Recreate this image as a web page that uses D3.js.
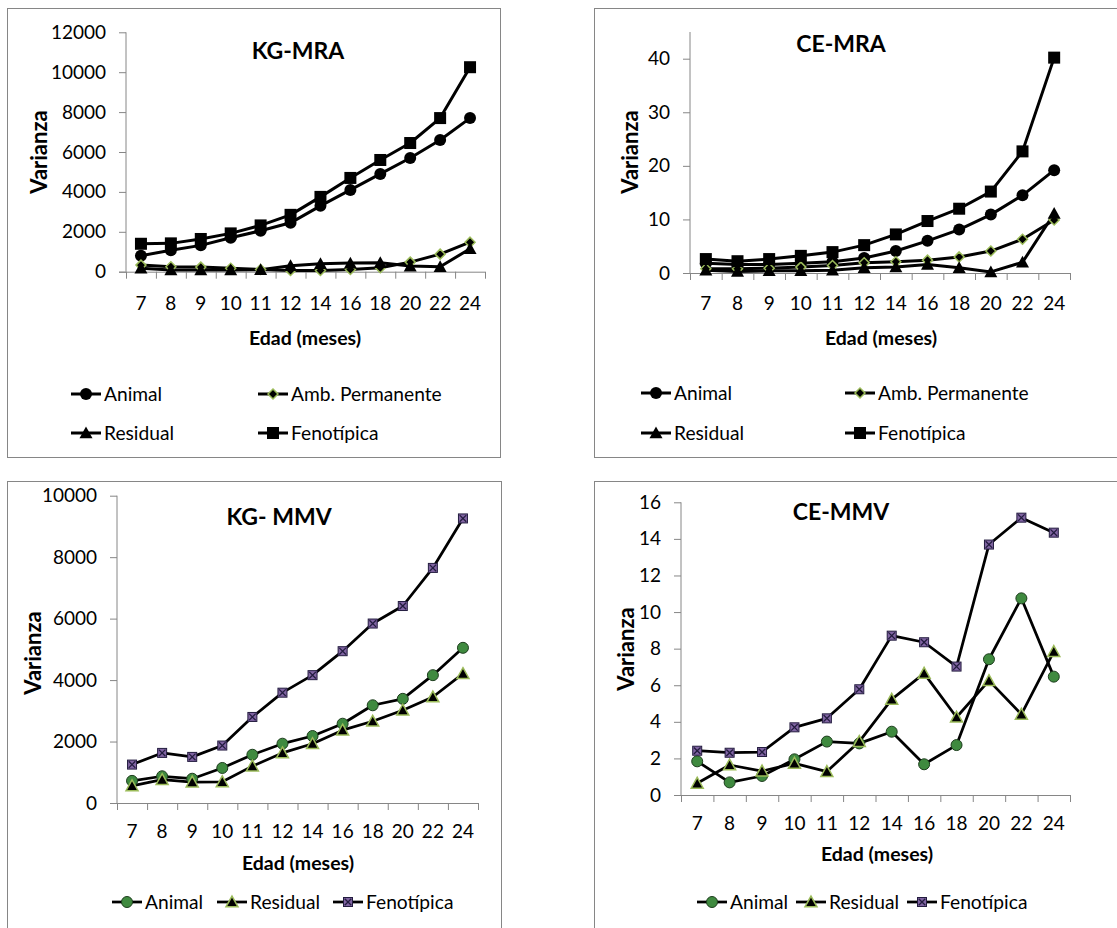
<!DOCTYPE html>
<html><head><meta charset="utf-8">
<script src="https://cdn.jsdelivr.net/npm/d3@7"></script>
<style>
body{margin:0;background:#fff}
svg{display:block}
text{font-family:Lato,"Open Sans",sans-serif;fill:#000}
</style>
</head><body>
<svg id="c" width="1117" height="928"></svg>
<script>
// ---------- DATA ----------
const edades = ["7","8","9","10","11","12","14","16","18","20","22","24"];

const kgMraAnimal     = [800,1080,1320,1700,2050,2450,3300,4100,4900,5700,6600,7700];
const kgMraAmbPerm    = [330,250,230,170,110,60,60,110,200,480,880,1480];
const kgMraResidual   = [170,80,80,80,100,300,400,430,450,280,250,1150];
const kgMraFenotipica = [1400,1420,1640,1920,2320,2850,3750,4700,5600,6450,7700,10250];
const kgMraTicks      = [0,2000,4000,6000,8000,10000,12000];

const ceMraAnimal     = [1.8,1.6,1.6,1.8,2.1,2.8,4.1,6.0,8.1,10.9,14.5,19.2];
const ceMraAmbPerm    = [0.8,0.8,0.9,1.1,1.4,1.9,2.1,2.4,3.0,4.1,6.3,9.9];
const ceMraResidual   = [0.5,0.3,0.4,0.4,0.5,1.0,1.1,1.6,1.0,0.2,2.0,11.1];
const ceMraFenotipica = [2.6,2.2,2.6,3.2,3.9,5.2,7.2,9.7,12.0,15.2,22.7,40.2];
const ceMraTicks      = [0,10,20,30,40];

const kgMmvAnimal     = [720,870,790,1140,1570,1930,2180,2580,3180,3390,4160,5050];
const kgMmvResidual   = [560,760,680,690,1200,1630,1930,2370,2660,3020,3450,4210];
const kgMmvFenotipica = [1250,1630,1500,1870,2800,3590,4160,4940,5840,6410,7650,9260];
const kgMmvTicks      = [0,2000,4000,6000,8000,10000];

const ceMmvAnimal     = [1.84,0.69,1.04,1.95,2.92,2.82,3.46,1.68,2.73,7.42,10.75,6.47];
const ceMmvResidual   = [0.64,1.64,1.31,1.73,1.28,2.92,5.23,6.65,4.25,6.25,4.41,7.84];
const ceMmvFenotipica = [2.42,2.31,2.35,3.70,4.19,5.78,8.71,8.35,7.02,13.69,15.16,14.34];
const ceMmvTicks      = [0,2,4,6,8,10,12,14,16];

// ---------- STYLES ----------
const GREEN_EDGE = "#9bbb59";
const st = {
  mraAnimal:  {m:"circle",  s:12, fill:"#000", stroke:"#000", sw:0},
  mraPerm:    {m:"diamond", s:10, fill:"#000", stroke:GREEN_EDGE, sw:1.5},
  mraRes:     {m:"triangle",s:13, fill:"#000", stroke:"#000", sw:0},
  mraFen:     {m:"square",  s:12, fill:"#000", stroke:"#000", sw:0},
  mmvAnimal:  {m:"circle",  s:11, fill:"#3f8a3f", stroke:"#1d3d1d", sw:1},
  mmvRes:     {m:"triangle",s:12, fill:"#000", stroke:GREEN_EDGE, sw:1.5},
  mmvFen:     {m:"squarex", s:9,  fill:"#8064a2", stroke:"#231c3f", sw:1}
};
const FS_TICK = 19, FS_LEG = 19.2, FS_TITLE = 23, FS_AXT = 19.5, FS_YT = 22;

const panels = [
  {title:"KG-MRA", frame:[7,8,493,449], xr:[126,485], yr:[271.7,32.3], dom:[0,12000], ticks:kgMraTicks,
   titlePos:[298,59], yLab:[39,152], xLab:[305,345], tickBase:310, lw:3,
   series:[
     {name:"Animal", v:kgMraAnimal, s:st.mraAnimal, leg:[71,394]},
     {name:"Amb. Permanente", v:kgMraAmbPerm, s:st.mraPerm, leg:[258,394]},
     {name:"Residual", v:kgMraResidual, s:st.mraRes, leg:[71,433]},
     {name:"Fenotípica", v:kgMraFenotipica, s:st.mraFen, leg:[258,433]}]},
  {title:"CE-MRA", frame:[594,8,600,449], xr:[690,1070], yr:[273,58.7], dom:[0,40], top:32, ticks:ceMraTicks,
   titlePos:[841,52], yLab:[630,152], xLab:[881,345], tickBase:310, lw:3,
   series:[
     {name:"Animal", v:ceMraAnimal, s:st.mraAnimal, leg:[641,393]},
     {name:"Amb. Permanente", v:ceMraAmbPerm, s:st.mraPerm, leg:[845,393]},
     {name:"Residual", v:ceMraResidual, s:st.mraRes, leg:[641,433]},
     {name:"Fenotípica", v:ceMraFenotipica, s:st.mraFen, leg:[845,433]}]},
  {title:"KG- MMV", frame:[7,481,494,470], xr:[117,478], yr:[803,495.7], dom:[0,10000], ticks:kgMmvTicks,
   titlePos:[279,525], yLab:[33,653], xLab:[298,870], tickBase:838, lw:2.75,
   series:[
     {name:"Animal", v:kgMmvAnimal, s:st.mmvAnimal, leg:[112,902]},
     {name:"Residual", v:kgMmvResidual, s:st.mmvRes, leg:[217,902]},
     {name:"Fenotípica", v:kgMmvFenotipica, s:st.mmvFen, leg:[333,902]}]},
  {title:"CE-MMV", frame:[594,481,600,470], xr:[681,1070], yr:[795,502.3], dom:[0,16], ticks:ceMmvTicks,
   titlePos:[841,520], yLab:[626,649], xLab:[877,861], tickBase:830, lw:2.75,
   series:[
     {name:"Animal", v:ceMmvAnimal, s:st.mmvAnimal, leg:[697,902]},
     {name:"Residual", v:ceMmvResidual, s:st.mmvRes, leg:[796,902]},
     {name:"Fenotípica", v:ceMmvFenotipica, s:st.mmvFen, leg:[907,902]}]}
];

// ---------- DRAW ----------
const svg = d3.select("#c");

function drawMarker(g, s, cx, cy) {
  const h = s.s / 2;
  let el;
  if (s.m === "circle") {
    el = g.append("circle").attr("cx", cx).attr("cy", cy).attr("r", h);
  } else if (s.m === "square" || s.m === "squarex") {
    el = g.append("rect").attr("x", cx - h).attr("y", cy - h).attr("width", s.s).attr("height", s.s);
  } else if (s.m === "diamond") {
    el = g.append("path").attr("d", `M${cx},${cy-h}L${cx+h},${cy}L${cx},${cy+h}L${cx-h},${cy}Z`);
  } else if (s.m === "triangle") {
    const th = s.s * 0.9;
    el = g.append("path").attr("d", `M${cx},${cy-th*0.55}L${cx+h},${cy+th*0.45}L${cx-h},${cy+th*0.45}Z`);
  }
  el.attr("fill", s.fill).attr("stroke", s.sw ? s.stroke : "none").attr("stroke-width", s.sw);
  if (s.m === "squarex") {
    const k = h - 1.2;
    g.append("path").attr("d", `M${cx-k},${cy-k}L${cx+k},${cy+k}M${cx+k},${cy-k}L${cx-k},${cy+k}`)
      .attr("stroke", s.stroke).attr("stroke-width", 1.3).attr("fill", "none");
  }
}

panels.forEach(p => {
  const g = svg.append("g");
  g.append("rect").attr("x", p.frame[0] + 0.5).attr("y", p.frame[1] + 0.5)
    .attr("width", p.frame[2]).attr("height", p.frame[3])
    .attr("fill", "#fff").attr("stroke", "#868686").attr("stroke-width", 1);

  const x = d3.scaleBand().domain(edades).range(p.xr).paddingInner(0).paddingOuter(0);
  const xi = d3.scaleLinear().domain([0, edades.length]).range(p.xr);
  const y = d3.scaleLinear().domain(p.dom).range(p.yr);

  // y axis
  const ya = g.append("g").attr("transform", `translate(${p.xr[0]},0)`)
    .call(d3.axisLeft(y).tickValues(p.ticks).tickSize(7).tickPadding(13).tickSizeOuter(0).tickFormat(d3.format("d")));
  ya.select(".domain").remove();
  const topPx = p.top !== undefined ? p.top : p.yr[1];
  ya.append("line").attr("x1", 0).attr("x2", 0).attr("y1", p.yr[0]).attr("y2", topPx)
    .attr("stroke", "#868686").attr("stroke-width", 1);
  ya.selectAll(".tick line").attr("stroke", "#868686");
  ya.selectAll("text").attr("font-size", FS_TICK).attr("font-family", "Lato").attr("fill", "#000");

  // x axis tick marks at category boundaries
  const xa = g.append("g").attr("transform", `translate(0,${p.yr[0]})`)
    .call(d3.axisBottom(xi).tickValues(d3.range(0, edades.length + 1)).tickSize(7).tickFormat(""));
  xa.select(".domain").attr("stroke", "#868686").attr("d", `M${p.xr[0]-7},0.5H${p.xr[1]}`);
  xa.selectAll(".tick line").attr("stroke", "#868686");
  // x labels
  const xl = g.append("g").attr("transform", `translate(0,${p.yr[0]})`)
    .call(d3.axisBottom(x).tickSize(0));
  xl.select(".domain").remove();
  xl.selectAll("text").attr("dy", null).attr("y", p.tickBase - p.yr[0])
    .attr("font-size", FS_TICK).attr("font-family", "Lato").attr("fill", "#000");

  // titles
  g.append("text").attr("x", p.titlePos[0]).attr("y", p.titlePos[1]).attr("text-anchor", "middle")
    .attr("font-size", FS_TITLE).attr("font-weight", "bold").text(p.title);
  g.append("text").attr("transform", `translate(${p.yLab[0]},${p.yLab[1]}) rotate(-90)`)
    .attr("text-anchor", "middle").attr("dy", "0.36em")
    .attr("font-size", FS_YT).attr("font-weight", "bold").text("Varianza");
  g.append("text").attr("x", p.xLab[0]).attr("y", p.xLab[1]).attr("text-anchor", "middle")
    .attr("font-size", FS_AXT).attr("font-weight", "bold").text("Edad (meses)");

  // series
  const line = d3.line().x((d, i) => x(edades[i]) + x.bandwidth() / 2).y(d => y(d));
  p.series.forEach(sr => {
    g.append("path").attr("d", line(sr.v)).attr("fill", "none").attr("stroke", "#000")
      .attr("stroke-width", p.lw).attr("stroke-linejoin", "round");
  });
  p.series.forEach(sr => {
    const mg = g.append("g");
    sr.v.forEach((d, i) => drawMarker(mg, sr.s, x(edades[i]) + x.bandwidth() / 2, y(d)));
  });

  // legend
  p.series.forEach(sr => {
    const lg = g.append("g");
    const [lx, ly] = sr.leg;
    lg.append("line").attr("x1", lx).attr("x2", lx + 30).attr("y1", ly).attr("y2", ly)
      .attr("stroke", "#000").attr("stroke-width", p.lw);
    drawMarker(lg, sr.s, lx + 15, ly);
    lg.append("text").attr("x", lx + 33).attr("y", ly).attr("dy", "0.36em")
      .attr("font-size", FS_LEG).text(sr.name);
  });
});
</script>
</body></html>
